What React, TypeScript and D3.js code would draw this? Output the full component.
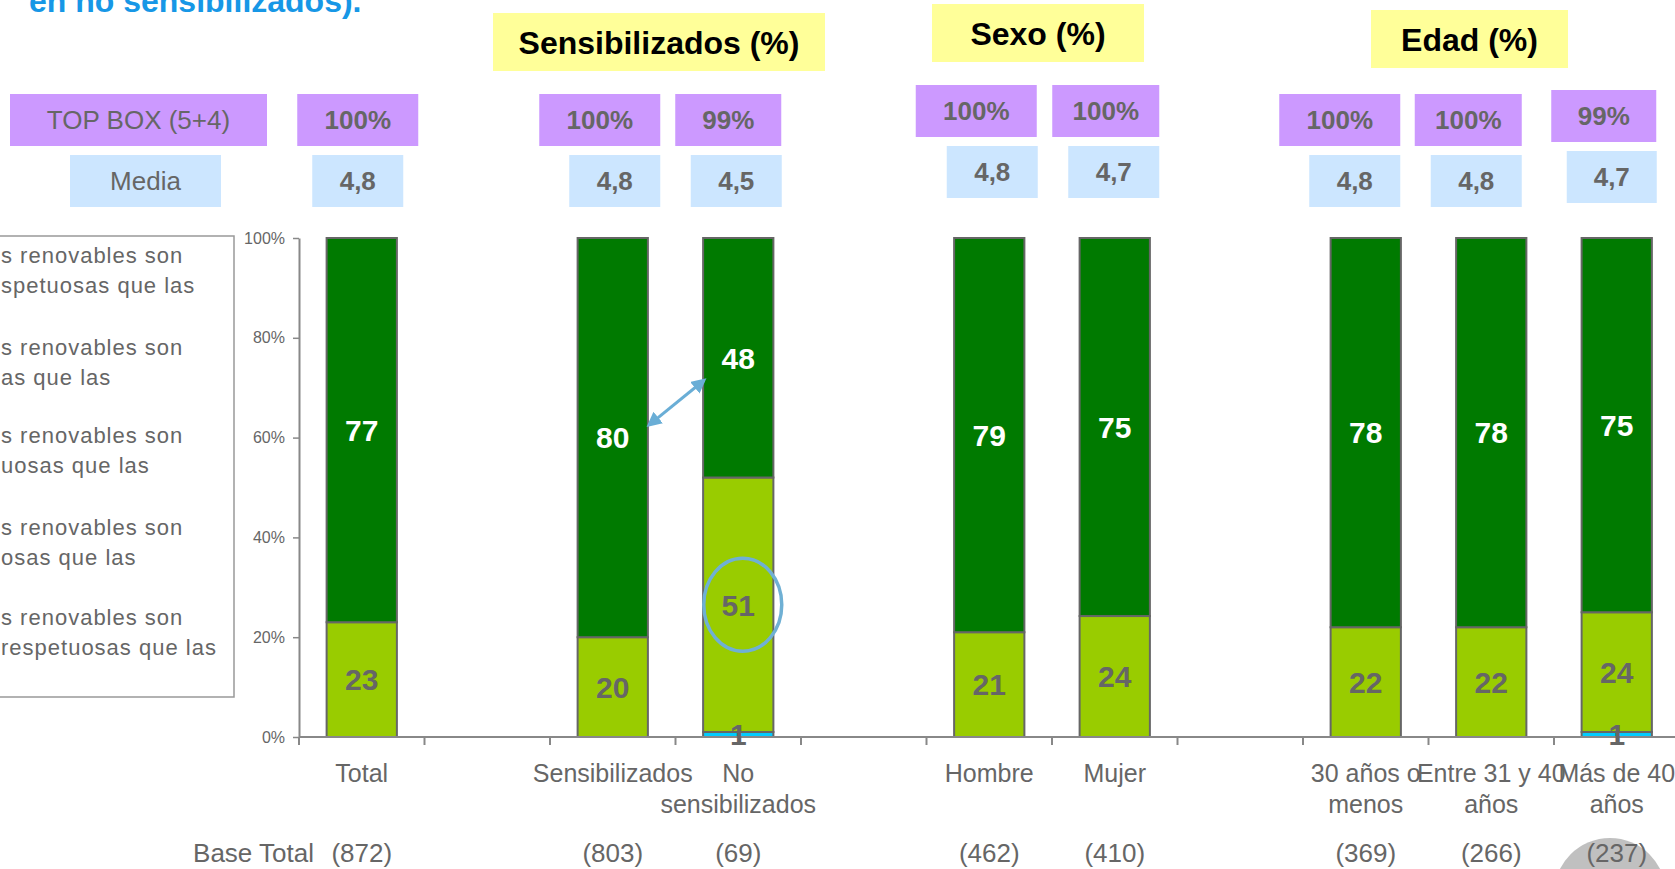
import React, { useRef, useEffect } from "react";
import * as d3 from "d3";

// categories shown on the x axis (empty slots keep the gaps between groups)
const categories = [
  "Total",
  "Sensibilizados",
  "No sensibilizados",
  "Hombre",
  "Mujer",
  "30 años o menos",
  "Entre 31 y 40 años",
  "Más de 40 años",
];
const slotKeys = [
  "Total",
  "gap1",
  "Sensibilizados",
  "No sensibilizados",
  "gap2",
  "Hombre",
  "Mujer",
  "gap3",
  "30 años o menos",
  "Entre 31 y 40 años",
  "Más de 40 años",
];
const tickLines = [
  ["Total"],
  ["Sensibilizados"],
  ["No", "sensibilizados"],
  ["Hombre"],
  ["Mujer"],
  ["30 años o", "menos"],
  ["Entre 31 y 40", "años"],
  ["Más de 40", "años"],
];

// series values (%)
const valorBajo = [0, 0, 1, 0, 0, 0, 0, 1];
const valorMedio = [23, 20, 51, 21, 24, 22, 22, 24];
const valorAlto = [77, 80, 48, 79, 75, 78, 78, 75];

const topBox = ["100%", "100%", "99%", "100%", "100%", "100%", "100%", "99%"];
const media = ["4,8", "4,8", "4,5", "4,8", "4,7", "4,8", "4,8", "4,7"];
const baseTotal = [872, 803, 69, 462, 410, 369, 266, 237];

const yTicks = [0, 0.2, 0.4, 0.6, 0.8, 1];

const legendLines = [
  ["s renovables son", "spetuosas que las"],
  ["s renovables son", "as que las"],
  ["s renovables son", "uosas que las"],
  ["s renovables son", "osas que las"],
  ["s renovables son", "respetuosas que las"],
];

const headers = [
  { text: "Sensibilizados (%)", x: 493, y: 13, w: 332, h: 58 },
  { text: "Sexo (%)", x: 932, y: 4, w: 212, h: 58 },
  { text: "Edad (%)", x: 1371, y: 10, w: 197, h: 58 },
];

// box layout: offset from bar centre, top, width
const topBoxLayout = [
  [-4, 94, 121],
  [-13, 94, 121],
  [-10, 94, 106],
  [-13, 85, 121],
  [-9, 85, 107],
  [-26, 94, 121],
  [-23, 94, 107],
  [-13, 90, 105],
];
const mediaLayout = [
  [-4, 155, 91],
  [2, 155, 91],
  [-2, 155, 91],
  [3, 146, 91],
  [-1, 146, 91],
  [-11, 155, 91],
  [-15, 155, 91],
  [-5, 151, 90],
];

const FONT = "'Liberation Sans', Arial, sans-serif";
const GREY = "#666666";

const App = () => {
  const svgRef = useRef(null);

  const draw = () => {
    const svg = d3.select(svgRef.current);
    svg.selectAll("*").remove();

    const x = d3
      .scaleBand()
      .domain(slotKeys)
      .range([299, 299 + 125.5 * 11])
      .paddingInner(0.44)
      .paddingOuter(0.22);
    const y = d3.scaleLinear().domain([0, 1]).range([737, 238]);
    const bw = x.bandwidth();
    const cx = (c) => x(c) + bw / 2;

    /* title fragment */
    svg
      .append("text")
      .attr("x", 29)
      .attr("y", 12)
      .style("font", `bold 32px ${FONT}`)
      .attr("fill", "#1797e6")
      .text("en no sensibilizados).");

    /* header boxes */
    headers.forEach((h) => {
      svg
        .append("rect")
        .attr("x", h.x)
        .attr("y", h.y)
        .attr("width", h.w)
        .attr("height", h.h)
        .attr("fill", "#ffff99");
      svg
        .append("text")
        .attr("x", h.x + h.w / 2)
        .attr("y", h.y + h.h / 2)
        .attr("dy", "0.36em")
        .attr("text-anchor", "middle")
        .style("font", `bold 32px ${FONT}`)
        .attr("fill", "#000")
        .text(h.text);
    });

    /* row labels */
    const box = (bx, by, w, h, fill, txt, bold) => {
      svg
        .append("rect")
        .attr("x", bx)
        .attr("y", by)
        .attr("width", w)
        .attr("height", h)
        .attr("fill", fill);
      svg
        .append("text")
        .attr("x", bx + w / 2)
        .attr("y", by + h / 2)
        .attr("dy", "0.36em")
        .attr("text-anchor", "middle")
        .style("font", `${bold ? "bold " : ""}26px ${FONT}`)
        .attr("fill", GREY)
        .text(txt);
    };
    box(10, 94, 257, 52, "#cc99ff", "TOP BOX (5+4)", false);
    box(70, 155, 151, 52, "#cce6ff", "Media", false);
    categories.forEach((c, i) => {
      const [dx, by, w] = topBoxLayout[i];
      box(cx(c) + dx - w / 2, by, w, 52, "#cc99ff", topBox[i], true);
      const [mdx, mby, mw] = mediaLayout[i];
      box(cx(c) + mdx - mw / 2, mby, mw, 52, "#cce6ff", media[i], true);
    });

    /* legend box (cut at the left edge) */
    svg
      .append("rect")
      .attr("x", -10)
      .attr("y", 236)
      .attr("width", 244)
      .attr("height", 461)
      .attr("fill", "#fff")
      .attr("stroke", "#999")
      .attr("stroke-width", 1.5);
    const legendY = [263, 355, 443, 535, 625];
    legendLines.forEach((lines, i) => {
      lines.forEach((l, j) => {
        svg
          .append("text")
          .attr("x", 1)
          .attr("y", legendY[i] + j * 30)
          .style("font", `22px ${FONT}`)
          .style("letter-spacing", "1px")
          .attr("fill", GREY)
          .text(l);
      });
    });

    /* y axis */
    const yAxis = svg
      .append("g")
      .attr("transform", "translate(299,0)")
      .call(
        d3
          .axisLeft(y)
          .tickValues(yTicks)
          .tickFormat(d3.format(".0%"))
          .tickSize(6)
          .tickSizeOuter(0)
          .tickPadding(8)
      );
    yAxis.select(".domain").attr("stroke", "#888").attr("stroke-width", 2);
    yAxis.selectAll(".tick line").attr("stroke", "#888").attr("stroke-width", 1.5);
    yAxis
      .selectAll(".tick text")
      .attr("fill", GREY)
      .style("font", `16px ${FONT}`);

    /* stacked bars */
    const rows = categories.map((c, i) => ({
      cat: c,
      bajo: valorBajo[i],
      medio: valorMedio[i],
      alto: valorAlto[i],
    }));
    const keys = ["bajo", "medio", "alto"];
    const colors = { bajo: "#00ccff", medio: "#99cc00", alto: "#007a00" };
    const labelColors = { bajo: GREY, medio: GREY, alto: "#ffffff" };
    const series = d3.stack().keys(keys).offset(d3.stackOffsetExpand)(rows);

    series.forEach((s) => {
      svg
        .append("g")
        .selectAll("rect")
        .data(s.filter((d) => d.data[s.key] > 0))
        .enter()
        .append("rect")
        .attr("x", (d) => x(d.data.cat))
        .attr("y", (d) => y(d[1]))
        .attr("width", bw)
        .attr("height", (d) => y(d[0]) - y(d[1]))
        .attr("fill", colors[s.key])
        .attr("stroke", GREY)
        .attr("stroke-width", 2);
    });

    /* x axis */
    const step = x.step();
    const axisG = svg.append("g");
    axisG
      .append("line")
      .attr("x1", 299)
      .attr("x2", 1680)
      .attr("y1", 737)
      .attr("y2", 737)
      .attr("stroke", "#888")
      .attr("stroke-width", 2);
    axisG
      .selectAll("line.tk")
      .data(slotKeys)
      .enter()
      .append("line")
      .attr("class", "tk")
      .attr("x1", (k) => x(k) - (step - bw) / 2)
      .attr("x2", (k) => x(k) - (step - bw) / 2)
      .attr("y1", 737)
      .attr("y2", 745)
      .attr("stroke", "#888")
      .attr("stroke-width", 2);

    /* value labels */
    series.forEach((s) => {
      svg
        .append("g")
        .selectAll("text")
        .data(s.filter((d) => d.data[s.key] > 0))
        .enter()
        .append("text")
        .attr("x", (d) => cx(d.data.cat))
        .attr("y", (d) => y((d[0] + d[1]) / 2))
        .attr("dy", "0.36em")
        .attr("text-anchor", "middle")
        .style("font", `bold 30px ${FONT}`)
        .attr("fill", labelColors[s.key])
        .text((d) => d.data[s.key]);
    });

    /* category labels */
    categories.forEach((c, i) => {
      tickLines[i].forEach((l, j) => {
        svg
          .append("text")
          .attr("x", cx(c))
          .attr("y", 782 + j * 31)
          .attr("text-anchor", "middle")
          .style("font", `25px ${FONT}`)
          .attr("fill", GREY)
          .text(l);
      });
    });

    /* grey round shape bottom right */
    svg
      .append("circle")
      .attr("cx", 1610)
      .attr("cy", 894)
      .attr("r", 56)
      .attr("fill", "#c0c0c0");

    /* base totals */
    svg
      .append("text")
      .attr("x", 314)
      .attr("y", 862)
      .attr("text-anchor", "end")
      .style("font", `26px ${FONT}`)
      .attr("fill", GREY)
      .text("Base Total");
    categories.forEach((c, i) => {
      svg
        .append("text")
        .attr("x", cx(c))
        .attr("y", 862)
        .attr("text-anchor", "middle")
        .style("font", `26px ${FONT}`)
        .attr("fill", GREY)
        .text(`(${baseTotal[i]})`);
    });

    /* annotation: double arrow + ellipse */
    const defs = svg.append("defs");
    ["s", "e"].forEach((id) => {
      defs
        .append("marker")
        .attr("id", `arr-${id}`)
        .attr("viewBox", "0 0 10 10")
        .attr("refX", 8)
        .attr("refY", 5)
        .attr("markerWidth", 5)
        .attr("markerHeight", 5)
        .attr("orient", id === "s" ? "auto-start-reverse" : "auto")
        .append("path")
        .attr("d", "M0,0 L10,5 L0,10 z")
        .attr("fill", "#6aaed6");
    });
    const sx = x("Sensibilizados") + bw;
    const ex = x("No sensibilizados");
    svg
      .append("line")
      .attr("x1", sx + 1)
      .attr("y1", y(0.625))
      .attr("x2", ex + 1)
      .attr("y2", y(0.715))
      .attr("stroke", "#6aaed6")
      .attr("stroke-width", 3)
      .attr("marker-start", "url(#arr-s)")
      .attr("marker-end", "url(#arr-e)");

    const ns = series[1].find((d) => d.data.cat === "No sensibilizados");
    svg
      .append("ellipse")
      .attr("cx", cx("No sensibilizados") + 4.5)
      .attr("cy", y((ns[0] + ns[1]) / 2))
      .attr("rx", 39)
      .attr("ry", 46.5)
      .attr("fill", "none")
      .attr("stroke", "#6fb0d4")
      .attr("stroke-width", 3.5);
  };

  useEffect(() => {
    draw();
  }, []);

  return (
    <svg
      ref={svgRef}
      width={1675}
      height={869}
      style={{ position: "absolute", left: 0, top: 0, background: "#fff" }}
    />
  );
};

export default App;
